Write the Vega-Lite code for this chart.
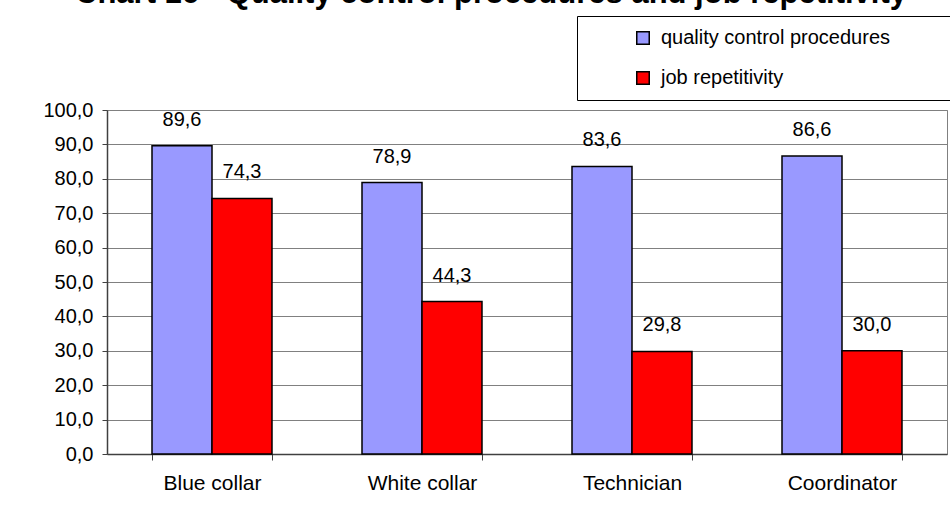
{
  "$schema": "https://vega.github.io/schema/vega-lite/v6.json",
  "width": 840,
  "height": 344,
  "autosize": "none",
  "padding": {"left": 107, "top": 110, "right": 3, "bottom": 65},
  "background": "white",
  "config": {
    "locale": {"number": {"decimal": ",", "thousands": ".", "grouping": [3], "currency": ["", " €"]}},
    "font": "Liberation Sans",
    "view": {"stroke": "#808080", "strokeWidth": 1}
  },
  "title": {
    "text": "Chart 16 - Quality control procedures and job repetitivity",
    "font": "Liberation Sans",
    "fontSize": 31,
    "fontWeight": "bold",
    "color": "black",
    "anchor": "middle",
    "frame": "group",
    "dx": -36,
    "baseline": "alphabetic",
    "offset": -18
  },
  "data": {
    "values": [
      {"category": "Blue collar", "series": "quality control procedures", "value": 89.6},
      {"category": "Blue collar", "series": "job repetitivity", "value": 74.3},
      {"category": "White collar", "series": "quality control procedures", "value": 78.9},
      {"category": "White collar", "series": "job repetitivity", "value": 44.3},
      {"category": "Technician", "series": "quality control procedures", "value": 83.6},
      {"category": "Technician", "series": "job repetitivity", "value": 29.8},
      {"category": "Coordinator", "series": "quality control procedures", "value": 86.6},
      {"category": "Coordinator", "series": "job repetitivity", "value": 30.0}
    ]
  },
  "encoding": {
    "x": {
      "field": "category",
      "type": "nominal",
      "sort": ["Blue collar", "White collar", "Technician", "Coordinator"],
      "scale": {"paddingInner": 0.4286, "paddingOuter": 0.2143},
      "axis": {
        "title": null,
        "labelAngle": 0,
        "labelFontSize": 21,
        "labelFont": "Liberation Sans",
        "labelColor": "black",
        "labelPadding": 12,
        "tickBand": "extent",
        "tickSize": 6,
        "tickColor": "#404040",
        "domainColor": "#404040",
        "domainWidth": 1.5,
        "grid": false
      }
    },
    "xOffset": {
      "field": "series",
      "type": "nominal",
      "sort": ["quality control procedures", "job repetitivity"]
    },
    "y": {
      "field": "value",
      "type": "quantitative",
      "scale": {"domain": [0, 100], "nice": false},
      "axis": {
        "title": null,
        "values": [0, 10, 20, 30, 40, 50, 60, 70, 80, 90, 100],
        "format": ".1f",
        "labelFontSize": 20,
        "labelFont": "Liberation Sans",
        "labelColor": "black",
        "labelPadding": 9,
        "tickSize": 5,
        "tickColor": "#404040",
        "domainColor": "#404040",
        "domainWidth": 1.5,
        "grid": true,
        "gridColor": "#808080",
        "gridWidth": 1
      }
    }
  },
  "layer": [
    {
      "mark": {"type": "bar", "stroke": "black", "strokeWidth": 1.5},
      "encoding": {
        "color": {
          "field": "series",
          "type": "nominal",
          "scale": {"domain": ["quality control procedures", "job repetitivity"], "range": ["#9999FF", "#FF0000"]},
          "legend": {
            "orient": "none",
            "legendX": 470,
            "legendY": -94,
            "title": "\u00a0",
            "titleOrient": "right",
            "titleFontSize": 20,
            "titlePadding": 50,
            "symbolType": "square",
            "symbolSize": 156,
            "symbolStrokeColor": "black",
            "symbolStrokeWidth": 1.5,
            "symbolOpacity": 1,
            "labelFontSize": 20,
            "labelFont": "Liberation Sans",
            "labelColor": "black",
            "labelLimit": 500,
            "strokeColor": "black",
            "fillColor": "white",
            "padding": 12,
            "rowPadding": 20,
            "symbolOffset": 44,
            "labelOffset": 8
          }
        }
      }
    },
    {
      "mark": {"type": "text", "dy": -20, "baseline": "alphabetic", "fontSize": 20, "font": "Liberation Sans", "color": "black"},
      "encoding": {
        "text": {"field": "value", "type": "quantitative", "format": ".1f"}
      }
    }
  ]
}
